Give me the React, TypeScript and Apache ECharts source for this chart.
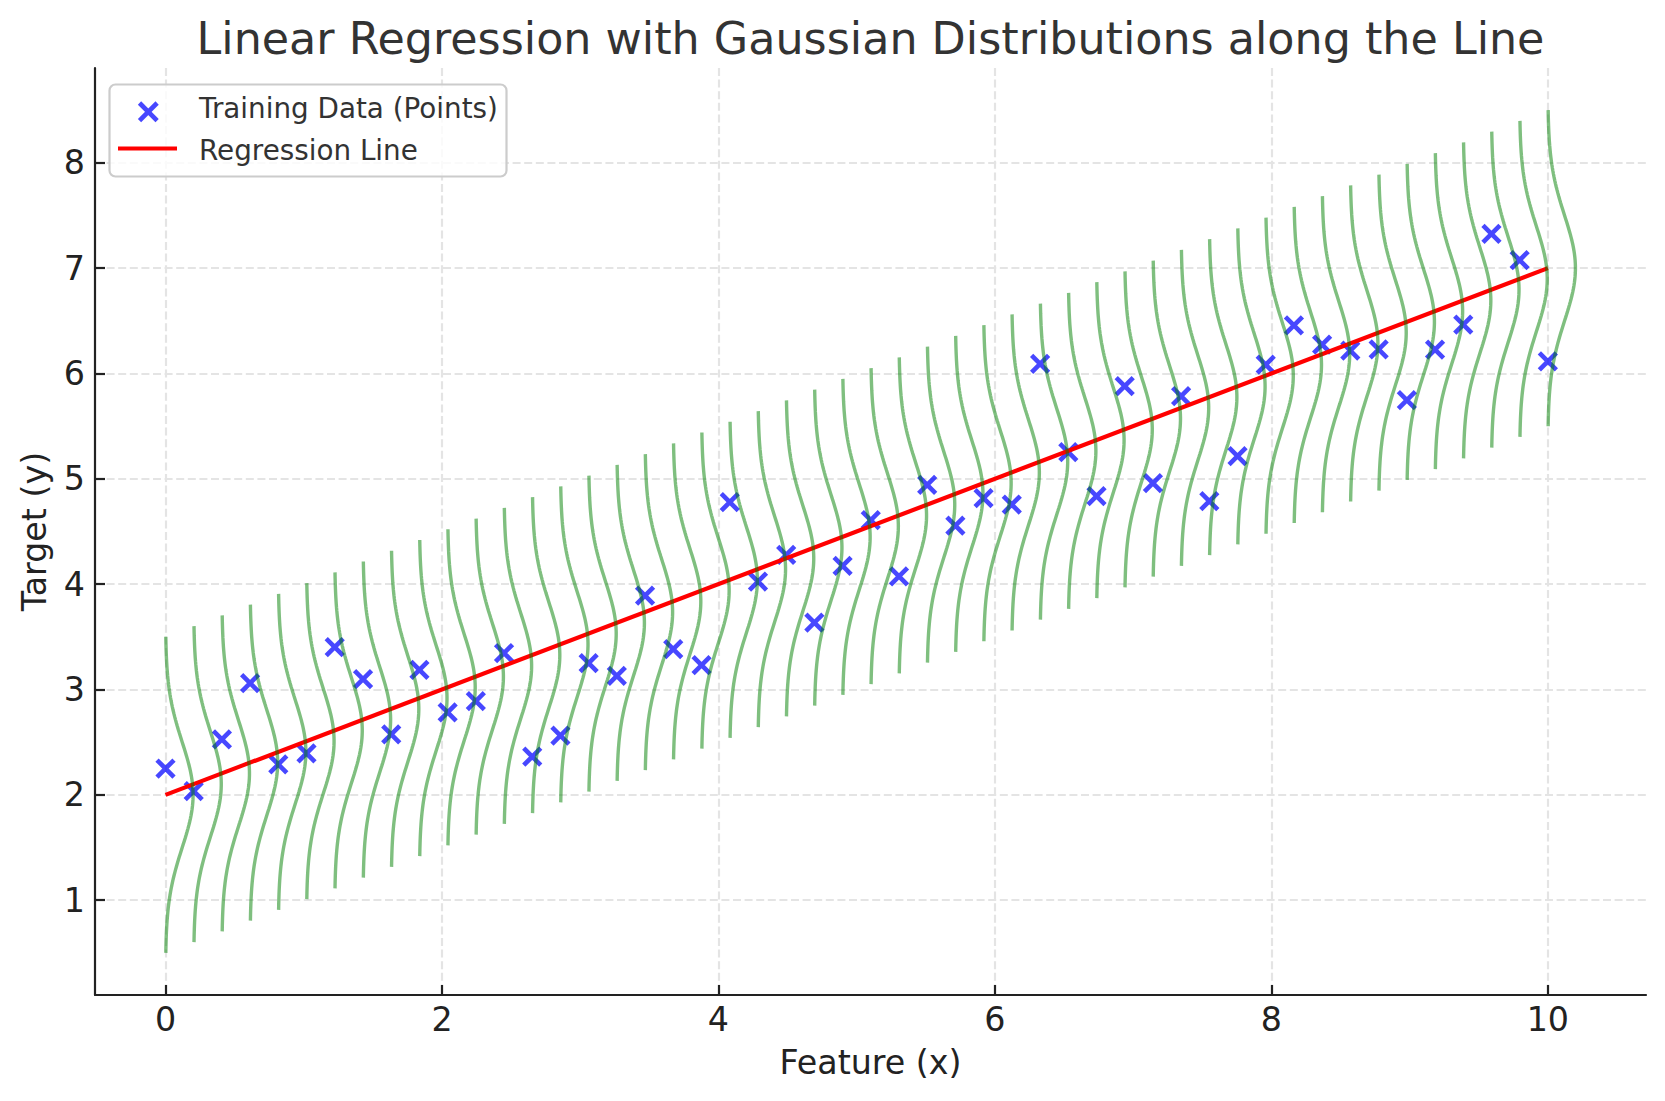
import React, { useEffect, useRef } from "react";
import * as echarts from "echarts";

// ---- data ----
const TITLE = "Linear Regression with Gaussian Distributions along the Line";
const X_NAME = "Feature (x)";
const Y_NAME = "Target (y)";
const LEGEND_POINTS = "Training Data (Points)";
const LEGEND_LINE = "Regression Line";

const X_TRAIN = [
  0, 0.204, 0.408, 0.612, 0.816, 1.02, 1.224, 1.429, 1.633, 1.837,
  2.041, 2.245, 2.449, 2.653, 2.857, 3.061, 3.265, 3.469, 3.673, 3.878,
  4.082, 4.286, 4.49, 4.694, 4.898, 5.102, 5.306, 5.51, 5.714, 5.918,
  6.122, 6.327, 6.531, 6.735, 6.939, 7.143, 7.347, 7.551, 7.755, 7.959,
  8.163, 8.367, 8.571, 8.776, 8.98, 9.184, 9.388, 9.592, 9.796, 10,
];
const Y_TRAIN = [
  2.25, 2.035, 2.527, 3.06, 2.289, 2.394, 3.403, 3.098, 2.575, 3.187,
  2.784, 2.889, 3.346, 2.362, 2.562, 3.251, 3.13, 3.892, 3.384, 3.232,
  4.778, 4.025, 4.279, 3.635, 4.174, 4.609, 4.073, 4.943, 4.555, 4.816,
  4.756, 6.092, 5.254, 4.835, 5.88, 4.959, 5.784, 4.788, 5.216, 6.083,
  6.457, 6.275, 6.217, 6.23, 5.748, 6.227, 6.463, 7.326, 7.077, 6.115,
];

// regression model y = INTERCEPT + SLOPE * x, drawn over [0, 10]
const SLOPE = 0.5;
const INTERCEPT = 2;
const LINE_X = [0, 10];

// gaussian (pdf) drawn sideways at every training x
const SIGMA = 0.5;
const PDF_SCALE = 0.25;
const HALF_SPAN = 1.5;
const CURVE_SAMPLES = 100;

const X_TICKS = [0, 2, 4, 6, 8, 10];
const Y_TICKS = [1, 2, 3, 4, 5, 6, 7, 8];
const X_RANGE = [-0.51, 10.71];
const Y_RANGE = [0.1, 8.9];

const FONT = "DejaVu Sans";

function pdf(y: number, mu: number, s: number) {
  return Math.exp(-((y - mu) * (y - mu)) / (2 * s * s)) / (s * Math.sqrt(2 * Math.PI));
}

function gaussianCurve(x0: number) {
  const mu = INTERCEPT + SLOPE * x0;
  const pts: number[][] = [];
  for (let k = 0; k < CURVE_SAMPLES; k++) {
    const y = mu - HALF_SPAN + (2 * HALF_SPAN * k) / (CURVE_SAMPLES - 1);
    pts.push([x0 + PDF_SCALE * pdf(y, mu, SIGMA), y]);
  }
  return pts;
}

export default function App() {
  const ref = useRef<HTMLDivElement>(null);

  useEffect(() => {
    if (!ref.current) return;
    const chart = echarts.init(ref.current, undefined, { renderer: "svg" });

    const axisCommon = {
      type: "value" as const,
      axisLine: { show: true, onZero: false, lineStyle: { color: "#222222", width: 2.2 } },
      axisTick: { show: true, inside: true, length: 10, lineStyle: { color: "#222222", width: 2.2 } },
      splitLine: { show: true, lineStyle: { color: "#e4e4e4", width: 2.2, type: [8, 3.6] } },
      nameLocation: "middle" as const,
      nameTextStyle: { fontFamily: FONT, fontSize: 33.3, color: "#222222" },
    };

    const curveSeries = X_TRAIN.map((x) => ({
      type: "line",
      data: gaussianCurve(x),
      symbol: "none",
      silent: true,
      lineStyle: { color: "rgba(0,128,0,0.5)", width: 3.4 },
      emphasis: { disabled: true },
      z: 3,
    }));

    const legendX = 148.3;
    const legendY = 111.8;
    const h = 8.8;

    chart.setOption({
      animation: false,
      backgroundColor: "#ffffff",
      grid: { left: 95, right: 19, top: 68, bottom: 106, containLabel: false },
      xAxis: {
        ...axisCommon,
        min: X_RANGE[0],
        max: X_RANGE[1],
        name: X_NAME,
        nameGap: 51,
        axisTick: { ...axisCommon.axisTick, customValues: X_TICKS },
        axisLabel: {
          customValues: X_TICKS,
          fontFamily: FONT,
          fontSize: 33.3,
          color: "#222222",
          margin: 8,
        },
      },
      yAxis: {
        ...axisCommon,
        min: Y_RANGE[0],
        max: Y_RANGE[1],
        name: Y_NAME,
        nameGap: 44,
        nameRotate: 90,
        axisTick: { ...axisCommon.axisTick, customValues: Y_TICKS },
        axisLabel: {
          customValues: Y_TICKS,
          fontFamily: FONT,
          fontSize: 33.3,
          color: "#222222",
          margin: 10,
        },
      },
      series: [
        {
          name: LEGEND_POINTS,
          type: "scatter",
          data: X_TRAIN.map((x, i) => [x, Y_TRAIN[i]]),
          symbol: "path://M0,0L1,1M1,0L0,1",
          symbolSize: 17,
          itemStyle: {
            color: "#0000ff",
            borderColor: "#0000ff",
            borderWidth: 4.6,
            opacity: 0.72,
          },
          silent: true,
          z: 1,
        },
        {
          name: LEGEND_LINE,
          type: "line",
          data: LINE_X.map((x) => [x, INTERCEPT + SLOPE * x]),
          symbol: "none",
          silent: true,
          lineStyle: { color: "#ff0000", width: 4.2 },
          z: 2,
        },
        ...curveSeries,
      ],
      graphic: [
        {
          type: "text",
          x: 870.5,
          y: 38.5,
          z: 100,
          style: {
            text: TITLE,
            fontFamily: FONT,
            fontSize: 44.4,
            fill: "#333333",
            align: "center",
            verticalAlign: "middle",
          },
        },
        {
          type: "rect",
          z: 100,
          shape: { x: 109.5, y: 84.5, width: 397, height: 92, r: 6 },
          style: { fill: "rgba(255,255,255,0.8)", stroke: "#cccccc", lineWidth: 2.2 },
        },
        {
          type: "polyline",
          z: 101,
          shape: { points: [[legendX - h, legendY - h], [legendX + h, legendY + h]] },
          style: { stroke: "#4747ff", lineWidth: 4.6, fill: "none" },
        },
        {
          type: "polyline",
          z: 101,
          shape: { points: [[legendX + h, legendY - h], [legendX - h, legendY + h]] },
          style: { stroke: "#4747ff", lineWidth: 4.6, fill: "none" },
        },
        {
          type: "line",
          z: 101,
          shape: { x1: 118, y1: 148.5, x2: 177, y2: 148.5 },
          style: { stroke: "#ff0000", lineWidth: 4.2 },
        },
        {
          type: "text",
          z: 101,
          x: 199,
          y: 108.5,
          style: {
            text: LEGEND_POINTS,
            fontFamily: FONT,
            fontSize: 27.8,
            fill: "#333333",
            align: "left",
            verticalAlign: "middle",
          },
        },
        {
          type: "text",
          z: 101,
          x: 199,
          y: 150,
          style: {
            text: LEGEND_LINE,
            fontFamily: FONT,
            fontSize: 27.8,
            fill: "#333333",
            align: "left",
            verticalAlign: "middle",
          },
        },
      ],
    });

    return () => chart.dispose();
  }, []);

  return (
    <div
      ref={ref}
      style={{ position: "fixed", left: 0, top: 0, width: 1665, height: 1101, background: "#ffffff" }}
    />
  );
}
